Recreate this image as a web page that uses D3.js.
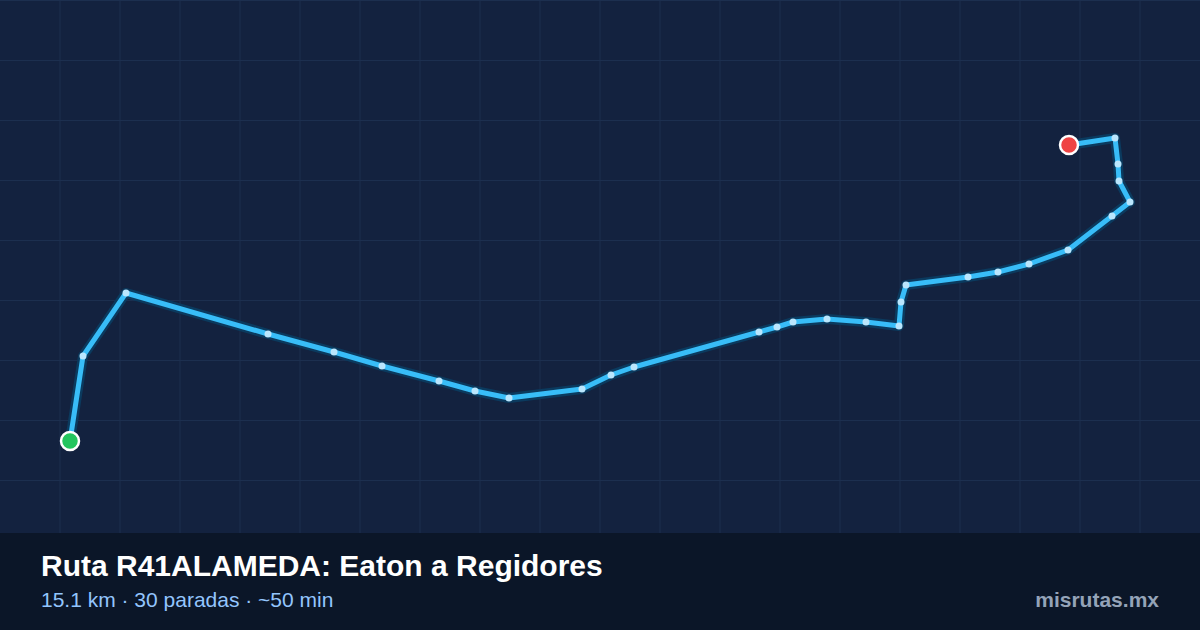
<!DOCTYPE html>
<html><head><meta charset="utf-8">
<script src="https://cdn.jsdelivr.net/npm/d3@7"></script>
<style>body{margin:0;background:#13223f}svg{display:block}</style>
</head><body>
<script>
const stopX = [70,83,126,268,334,382,439,475,509,582,611,634,759,777,793,827,866,899,901,906,968,998,1029,1068,1112,1130,1119,1118,1115,1069];
const stopY = [441,356,293,334,352,366,381,391,398,389,375,367,332,327,322,319,322,326,302,285,277,272,264,250,216,202,181,164,138,145];
const title = "Ruta R41ALAMEDA: Eaton a Regidores";
const subtitle = "15.1 km · 30 paradas · ~50 min";
const brand = "misrutas.mx";
const gridX = d3.range(60, 1200, 60);
const gridY = d3.range(0, 533, 60);

const W = 1200, H = 630;
const svg = d3.select("body").append("svg").attr("width", W).attr("height", H);
const x = d3.scaleLinear().domain([0, 1200]).range([0, W]);
const y = d3.scaleLinear().domain([0, 630]).range([0, H]);
svg.append("rect").attr("width", W).attr("height", H).attr("fill", "#13223f");
const g = svg.append("g");
g.selectAll(".gx").data(gridX).join("line").attr("x1", d=>x(d)).attr("x2", d=>x(d)).attr("y1",0).attr("y2",533).attr("stroke","#1c2f4f").attr("stroke-width",1);
g.selectAll(".gy").data(gridY).join("line").attr("y1", d=>y(d)+0.5).attr("y2", d=>y(d)+0.5).attr("x1",0).attr("x2",W).attr("stroke","#1c2f4f").attr("stroke-width",1);

const pts = stopX.map((v,i)=>[v, stopY[i]]);
const line = d3.line().x(d=>x(d[0])).y(d=>y(d[1]));
svg.append("path").attr("d", line(pts)).attr("fill","none").attr("stroke","#0b3a5e").attr("stroke-width",10).attr("stroke-linejoin","round").attr("stroke-linecap","round");
svg.append("path").attr("d", line(pts)).attr("fill","none").attr("stroke","#38bdf8").attr("stroke-width",5).attr("stroke-linejoin","round").attr("stroke-linecap","round");
svg.selectAll(".stop").data(pts.slice(1,-1)).join("circle").attr("cx",d=>x(d[0])).attr("cy",d=>y(d[1])).attr("r",3.5).attr("fill","#bae6fd");
const s = pts[0], e = pts[pts.length-1];
svg.append("circle").attr("cx",x(s[0])).attr("cy",y(s[1])).attr("r",9).attr("fill","#22c55e").attr("stroke","#fff").attr("stroke-width",2.5);
svg.append("circle").attr("cx",x(e[0])).attr("cy",y(e[1])).attr("r",9).attr("fill","#ef4444").attr("stroke","#fff").attr("stroke-width",2.5);

svg.append("rect").attr("y",533).attr("width",W).attr("height",97).attr("fill","#0b1628");
svg.append("text").attr("x",41).attr("y",576).text(title).attr("fill","#fff").attr("font-family","Liberation Sans, Arial, sans-serif").attr("font-weight","bold").attr("font-size",30);
svg.append("text").attr("x",41).attr("y",607).text(subtitle).attr("fill","#93c5fd").attr("font-family","Liberation Sans, Arial, sans-serif").attr("font-size",21);
svg.append("text").attr("x",1159).attr("y",607).attr("text-anchor","end").text(brand).attr("fill","#94a3b8").attr("font-family","Liberation Sans, Arial, sans-serif").attr("font-weight","bold").attr("font-size",21);
</script>
</body></html>
